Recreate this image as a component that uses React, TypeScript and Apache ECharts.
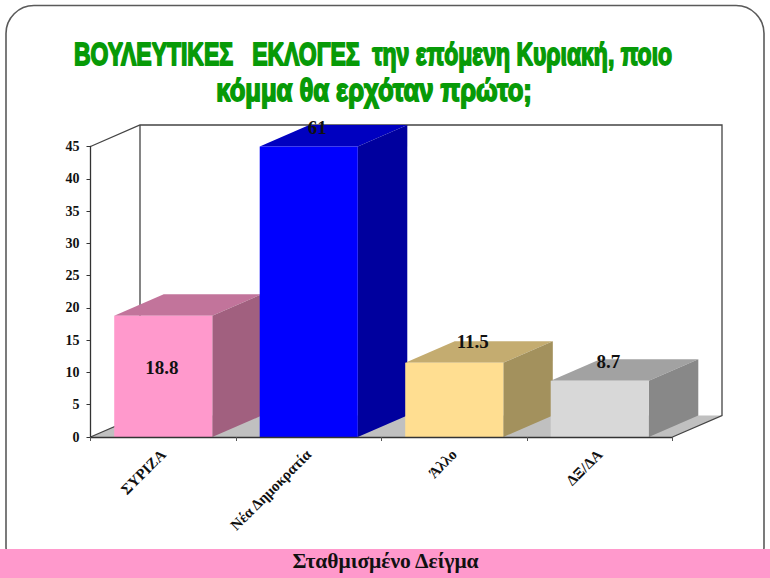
import React, { useEffect, useRef } from "react";
import * as echarts from "echarts";

const categories = ["ΣΥΡΙΖΑ", "Νέα Δημοκρατία", "Άλλο", "ΔΞ/ΔΑ"];
const values = [18.8, 61, 11.5, 8.7];
const frontColors = ["#FF99CC", "#0000FF", "#FFDE91", "#D8D8D8"];
const topColors = ["#C2749B", "#0000C0", "#C4AC70", "#A2A2A2"];
const sideColors = ["#A1607F", "#00009E", "#A3915D", "#888888"];
const labelOffsets = [
  [-1.5, 73],
  [8.5, 2.5],
  [18.5, 0],
  [8.5, 2],
];
const titleLine1 = "ΒΟΥΛΕΥΤΙΚΕΣ   ΕΚΛΟΓΕΣ  την επόμενη Κυριακή, ποιο";
const titleLine2 = "κόμμα θα ερχόταν πρώτο;";
const bannerText = "Σταθμισμένο Δείγμα";

const Y_MAX = 45;
const DX = 49.5;
const DY = 21.5;
const SERIF = "'Liberation Serif', serif";

export default function App() {
  const ref = useRef<HTMLDivElement>(null);
  useEffect(() => {
    document.body.style.margin = "0";
    document.body.style.background = "#fff";
    const chart = echarts.init(ref.current!, undefined, { renderer: "svg" });
    const titleStyle = {
      fontFamily: "'Liberation Sans', sans-serif",
      fontWeight: "bold",
      fontSize: 32,
      fill: "#079A07",
      stroke: "#079A07",
      lineWidth: 1.8,
      align: "center",
      verticalAlign: "middle",
    };
    chart.setOption({
      animation: false,
      backgroundColor: "#ffffff",
      grid: { left: 90.5, right: 97.5, top: 146.5, bottom: 141, containLabel: false },
      xAxis: {
        type: "category",
        data: categories,
        z: 5,
        axisLine: { show: true, lineStyle: { color: "#333333", width: 1.3 } },
        axisTick: { show: true, length: 4, lineStyle: { color: "#555555" } },
        axisLabel: {
          rotate: 45,
          margin: 15,
          interval: 0,
          color: "#111111",
          fontFamily: SERIF,
          fontWeight: "bold",
          fontSize: 15,
        },
      },
      yAxis: {
        type: "value",
        min: 0,
        max: Y_MAX,
        interval: 5,
        z: 5,
        splitLine: { show: false },
        axisLine: { show: true, lineStyle: { color: "#333333", width: 1.3 } },
        axisTick: { show: true, length: 4, lineStyle: { color: "#333333" } },
        axisLabel: {
          margin: 11,
          color: "#111111",
          fontFamily: SERIF,
          fontWeight: "bold",
          fontSize: 14,
        },
      },
      graphic: [
        {
          type: "rect",
          z: -10,
          shape: { x: 6, y: 5.5, width: 758, height: 570, r: 28 },
          style: { fill: "#ffffff", stroke: "#5a5a5a", lineWidth: 1.6 },
        },
        {
          type: "rect",
          z: 50,
          shape: { x: 0, y: 549, width: 770, height: 29 },
          style: { fill: "#FF99CC" },
        },
        {
          type: "text",
          z: 51,
          x: 385.5,
          y: 561,
          style: {
            text: bannerText,
            fontFamily: SERIF,
            fontWeight: "bold",
            fontSize: 21.5,
            fill: "#111111",
            align: "center",
            verticalAlign: "middle",
          },
        },
        {
          type: "text",
          z: 51,
          x: 373,
          y: 54,
          scaleX: 0.718,
          style: { ...titleStyle, text: titleLine1 },
        },
        {
          type: "text",
          z: 51,
          x: 374,
          y: 90,
          scaleX: 0.8,
          style: { ...titleStyle, text: titleLine2 },
        },
      ],
      series: [
        {
          type: "custom",
          coordinateSystem: "cartesian2d",
          clip: false,
          silent: true,
          z: 1,
          data: [[0, 0]],
          encode: { x: 0, y: 1 },
          renderItem: (params: any) => {
            const { x, y, width: w, height: h } = params.coordSys;
            const edge = { stroke: "#444444", lineWidth: 1.3, fill: "none" };
            return {
              type: "group",
              children: [
                {
                  type: "polygon",
                  shape: { points: [[x, y + h], [x + DX, y + h - DY], [x + w + DX, y + h - DY], [x + w, y + h]] },
                  style: { fill: "#C0C0C0" },
                },
                { type: "polyline", shape: { points: [[x, y], [x + DX, y - DY], [x + w + DX, y - DY], [x + w + DX, y + h - DY], [x + w, y + h]] }, style: edge },
                { type: "polyline", shape: { points: [[x + DX, y - DY], [x + DX, y + h - DY], [x, y + h]] }, style: edge },
              ],
            };
          },
        },
        {
          type: "custom",
          coordinateSystem: "cartesian2d",
          clip: false,
          silent: true,
          z: 2,
          data: values.map((v, i) => [i, v]),
          encode: { x: 0, y: 1 },
          renderItem: (params: any, api: any) => {
            const i = api.value(0);
            const v = api.value(1);
            const base = api.coord([i, 0]);
            const top = api.coord([i, Math.min(v, Y_MAX)]);
            const bw = api.size([1, 0])[0] * 0.674;
            const l = base[0] - bw / 2;
            const r = base[0] + bw / 2;
            const [ox, oy] = labelOffsets[i];
            return {
              type: "group",
              children: [
                {
                  type: "polygon",
                  shape: { points: [[l, top[1]], [l + DX, top[1] - DY], [r + DX, top[1] - DY], [r, top[1]]] },
                  style: { fill: topColors[i] },
                },
                {
                  type: "polygon",
                  shape: { points: [[r, top[1]], [r + DX, top[1] - DY], [r + DX, base[1] - DY], [r, base[1]]] },
                  style: { fill: sideColors[i] },
                },
                {
                  type: "rect",
                  shape: { x: l, y: top[1], width: bw, height: base[1] - top[1] },
                  style: { fill: frontColors[i] },
                },
                {
                  type: "text",
                  x: base[0] + ox,
                  y: top[1] - DY + oy,
                  style: {
                    text: String(v),
                    fontFamily: SERIF,
                    fontWeight: "bold",
                    fontSize: 19,
                    fill: "#111111",
                    align: "center",
                    verticalAlign: "middle",
                  },
                },
              ],
            };
          },
        },
      ],
    });
    return () => chart.dispose();
  }, []);
  return <div ref={ref} style={{ width: 770, height: 578 }} />;
}
